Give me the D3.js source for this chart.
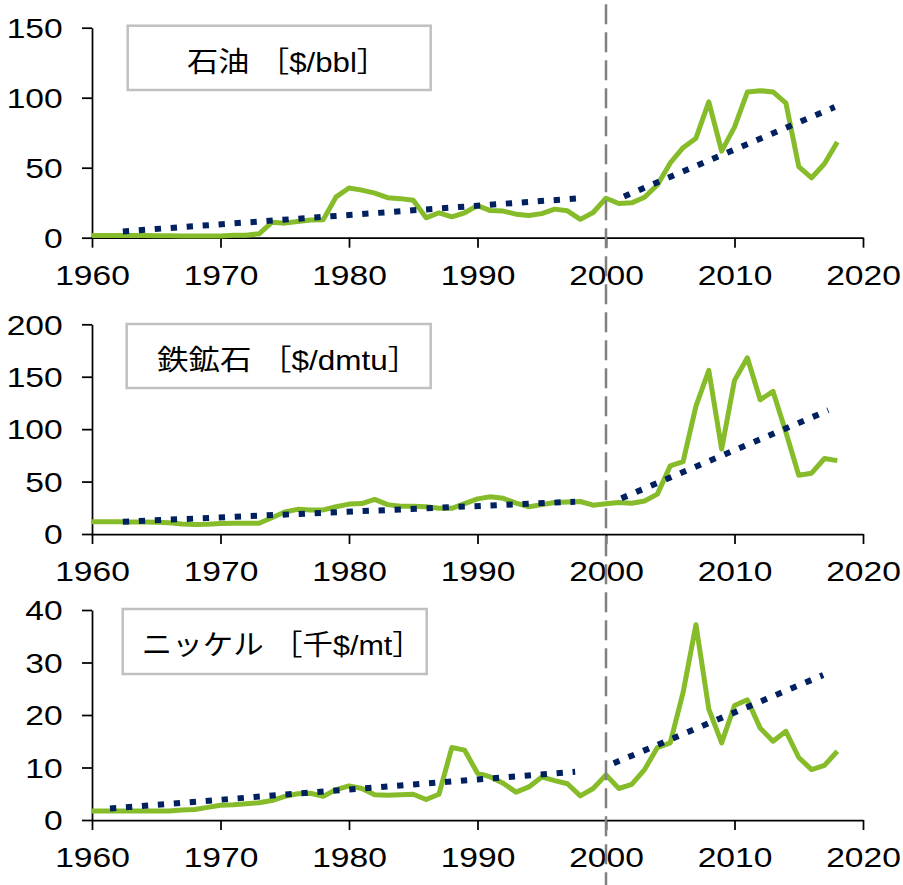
<!DOCTYPE html>
<html><head><meta charset="utf-8">
<script src="https://cdn.jsdelivr.net/npm/d3@7"></script>
<style>body{margin:0;background:#fff}svg{display:block}</style>
</head><body>
<svg id="chart" width="903" height="885"></svg>
<script>
const years = d3.range(1960, 2019);
const xTicks = [1960, 1970, 1980, 1990, 2000, 2010, 2020];

const oilTitle = "石油 ［$/bbl］";
const oilTicks = [0, 50, 100, 150];
const oilValues = [1.6,1.6,1.5,1.5,1.5,1.4,1.4,1.3,1.3,1.3,
  1.2,1.7,1.8,2.8,11.0,10.4,11.6,12.6,12.9,29.2,
  35.5,34.0,31.8,28.6,27.9,26.8,14.2,17.8,14.9,17.8,
  22.9,19.4,19.0,16.8,15.9,17.2,20.4,19.2,13.1,18.0,
  28.2,24.4,24.9,28.9,37.7,53.4,64.3,71.1,97.0,61.8,
  79.0,104.0,105.0,104.1,96.2,50.8,42.8,52.8,68.4];
const oilTrend = [[[1962.4,4.5],[1997.7,28.0]],[[2001.4,29.5],[2017.8,93.3]]];

const ironTitle = "鉄鉱石 ［$/dmtu］";
const ironTicks = [0, 50, 100, 150, 200];
const ironValues = [11.7,11.6,11.6,11.5,11.5,11.3,10.8,9.5,9.0,9.3,
  10.0,10.3,10.2,10.3,15.5,21.0,23.5,23.0,23.0,26.0,
  28.5,29.0,33.0,28.0,26.5,26.5,26.0,24.5,24.5,29.0,
  33.5,35.5,34.0,29.5,26.0,28.0,30.0,30.5,31.0,27.5,
  28.8,30.0,29.3,31.5,38.0,65.0,69.0,122.0,156.0,81.0,
  146.5,168.0,128.0,136.0,97.0,56.0,58.0,72.0,70.0];
const ironTrend = [[[1962.4,11.7],[1997.6,30.8]],[[2001.2,34.0],[2017.3,118.0]]];

const nickelTitle = "ニッケル ［千$/mt］";
const nickelTicks = [0, 10, 20, 30, 40];
const nickelValues = [1.7,1.7,1.7,1.7,1.7,1.7,1.7,1.9,2.0,2.4,
  2.8,2.9,3.1,3.3,3.7,4.5,5.0,5.1,4.5,5.8,
  6.5,6.0,4.8,4.7,4.8,4.9,3.9,4.9,13.8,13.3,
  8.9,8.2,7.0,5.3,6.3,8.2,7.5,6.9,4.6,6.0,
  8.6,6.0,6.8,9.6,13.8,14.7,24.3,37.2,21.1,14.7,
  21.8,22.9,17.5,15.0,16.9,11.9,9.6,10.4,13.1];
const nickelTrend = [[[1961.4,2.2],[1997.6,9.2]],[[2000.6,10.8],[2016.9,27.6]]];

const panels = [
  {title: oilTitle, ticks: oilTicks, values: oilValues, trend: oilTrend, yRange:[237.7,27.7], box:[127.7,25.7,303,64.3], ink:[187,367]},
  {title: ironTitle, ticks: ironTicks, values: ironValues, trend: ironTrend, yRange:[534,324.3], box:[126.7,324,304,64], ink:[157,398]},
  {title: nickelTitle, ticks: nickelTicks, values: nickelValues, trend: nickelTrend, yRange:[820,610], box:[122.7,609,304,65], ink:[144,402]}
];

const svg = d3.select("#chart");
const x = d3.scaleLinear().domain([1960, 2020]).range([92, 863]);
const STRETCH = 1.2;
const FONT = "'Liberation Sans', Arial, 'Noto Sans CJK JP', sans-serif";
const ctx = document.createElement("canvas").getContext("2d");
ctx.font = "28px " + FONT;

panels.forEach(p => {
  const y = d3.scaleLinear().domain([0, d3.max(p.ticks)]).range(p.yRange);
  const g = svg.append("g");

  // axes
  const ya = g.append("g").attr("transform", `translate(${x(1960)},0)`)
    .call(d3.axisLeft(y).tickValues(p.ticks).tickSize(10).tickSizeOuter(0).tickFormat(d3.format("d")));
  ya.selectAll("text").attr("x", -29.3 / STRETCH).attr("dy", "0.35em")
    .attr("transform", `scale(${STRETCH},1)`);
  const xa = g.append("g").attr("transform", `translate(0,${y(0)})`)
    .call(d3.axisBottom(x).tickValues(xTicks).tickSize(10).tickSizeOuter(0).tickFormat(d3.format("d")));
  xa.selectAll("text").attr("y", 47.5).attr("dy", null)
    .attr("transform", `scale(${STRETCH},1)`);
  [ya, xa].forEach(a => {
    a.selectAll("path, line").attr("stroke", "#000").attr("stroke-width", 1.75);
    a.selectAll("text").attr("font-family", FONT).attr("font-size", 28).attr("fill", "#000");
  });

  // data line
  g.append("path").datum(p.values)
    .attr("fill", "none").attr("stroke", "#86BC2A").attr("stroke-width", 5)
    .attr("stroke-linejoin", "round")
    .attr("d", d3.line().x((d, i) => x(years[i])).y(d => y(d)));

  // trend lines
  p.trend.forEach(seg => {
    g.append("path").datum(seg)
      .attr("fill", "none").attr("stroke", "#002060").attr("stroke-width", 6)
      .attr("stroke-dasharray", "6.3 9.7")
      .attr("d", d3.line().x(d => x(d[0])).y(d => y(d[1])));
  });

  // title box
  const [bx, by, bw, bh] = p.box;
  g.append("rect").attr("x", bx).attr("y", by).attr("width", bw).attr("height", bh)
    .attr("fill", "#fff").attr("stroke", "#C0C0C0").attr("stroke-width", 2.5);
  const m = ctx.measureText(p.title);
  let inkL = -m.actualBoundingBoxLeft, inkR = m.actualBoundingBoxRight;
  if (!(inkR - inkL > 10)) { inkL = 0; inkR = m.width; }
  const sx = (p.ink[1] - p.ink[0]) / (inkR - inkL);
  const tx = p.ink[0] - inkL * sx;
  g.append("text").attr("transform", `translate(${tx},${by + 46}) scale(${sx},1)`)
    .attr("text-anchor", "start").attr("font-family", FONT).attr("font-size", 28)
    .attr("fill", "#000").text(p.title);
});

// vertical dashed line at 2000
svg.append("line").attr("x1", x(2000)).attr("x2", x(2000)).attr("y1", 4.3).attr("y2", 885)
  .attr("stroke", "#808080").attr("stroke-width", 2.5).attr("stroke-dasharray", "20 8");
</script>
</body></html>
